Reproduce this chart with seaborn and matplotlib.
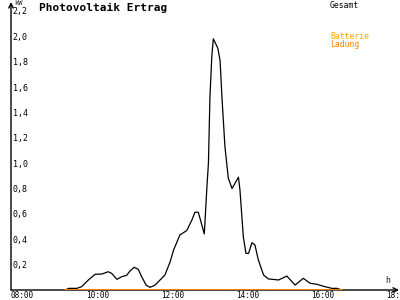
import matplotlib
matplotlib.use("Agg")
import matplotlib.pyplot as plt
import matplotlib.transforms as mtransforms
import seaborn as sns
import pandas as pd

# Data (hours, kW)
hours = [9.31, 9.41, 9.62, 9.75, 9.93, 10.11, 10.29, 10.46, 10.55, 10.69, 10.82,
         10.95, 11.04, 11.15, 11.26, 11.35, 11.47, 11.57, 11.71, 11.84, 11.97,
         12.11, 12.20, 12.37, 12.55, 12.69, 12.77, 12.86, 13.02, 13.09, 13.13,
         13.17, 13.22, 13.26, 13.38, 13.44, 13.49, 13.57, 13.66, 13.76, 13.93,
         13.97, 14.06, 14.13, 14.20, 14.29, 14.37, 14.46, 14.60, 14.73, 15.00,
         15.22, 15.44, 15.66, 15.84, 16.02, 16.24, 16.42, 16.55, 16.69]
gesamt = [0.00, 0.013, 0.013, 0.026, 0.079, 0.124, 0.126, 0.144, 0.131, 0.084, 0.105,
          0.116, 0.150, 0.179, 0.163, 0.105, 0.039, 0.021, 0.039, 0.079, 0.118,
          0.223, 0.315, 0.434, 0.468, 0.552, 0.613, 0.613, 0.442, 0.815, 1.00,
          1.52, 1.84, 1.98, 1.906, 1.81, 1.52, 1.13, 0.88, 0.80, 0.889,
          0.79, 0.42, 0.289, 0.289, 0.373, 0.355, 0.237, 0.118, 0.087, 0.079,
          0.11, 0.039, 0.092, 0.053, 0.045, 0.026, 0.013, 0.013, 0.0]
ladung_hours = [9.31, 16.69]
ladung = [0.0, 0.0]

y_ticks = [0.2, 0.4, 0.6, 0.8, 1.0, 1.2, 1.4, 1.6, 1.8, 2.0, 2.2]
y_labels = ["0,2", "0,4", "0,6", "0,8", "1,0", "1,2", "1,4", "1,6", "1,8", "2,0", "2,2"]
x_ticks = [8, 10, 12, 14, 16, 18]
x_labels = ["08:00", "10:00", "12:00", "14:00", "16:00", "18:00"]

sns.set_style("white")
plt.rcParams['font.family'] = ['DejaVu Sans Mono', 'DejaVu Sans']

fig = plt.figure(figsize=(4, 3), dpi=100)
ax = fig.add_axes([11/400, 10/300, 388/400, 288/300])

df = pd.DataFrame({"h": hours, "kW": gesamt})
dl = pd.DataFrame({"h": ladung_hours, "kW": ladung})
sns.lineplot(data=df, x="h", y="kW", ax=ax, color="black", linewidth=0.9)
sns.lineplot(data=dl, x="h", y="kW", ax=ax, color="#FF8000", linewidth=1.4, zorder=5)

ax.set_xlim(7.867, 18.21)
ax.set_ylim(0, 2.27)
ax.set_xlabel("")
ax.set_ylabel("")
for s in ax.spines.values():
    s.set_visible(False)

# axes with arrows
ax.annotate("", xy=(1.0, 0), xytext=(0, 0), xycoords="axes fraction",
            arrowprops=dict(arrowstyle="->", color="black", lw=1, shrinkA=0, shrinkB=0,
                            mutation_scale=8))
ax.annotate("", xy=(0, 1.0), xytext=(0, 0), xycoords="axes fraction",
            arrowprops=dict(arrowstyle="->", color="black", lw=1, shrinkA=0, shrinkB=0,
                            mutation_scale=8))

ax.set_yticks(y_ticks)
ax.set_yticklabels(y_labels)
ax.set_xticks(x_ticks)
ax.set_xticklabels(x_labels)
ax.tick_params(axis="both", direction="inout", length=5, width=1, color="black",
               labelsize=6, labelcolor="black")
ax.tick_params(axis="y", pad=-3.6)
ax.tick_params(axis="x", pad=-1.8, labelsize=5.5)
for lab in ax.get_yticklabels():
    lab.set_horizontalalignment("left")
off = mtransforms.ScaledTranslation(6.5/100, 0, fig.dpi_scale_trans)
for lab in ax.get_xticklabels():
    lab.set_transform(lab.get_transform() + off)

fig.text(39/400, 1 - 3/300, "Photovoltaik Ertrag", fontsize=8, fontweight="bold",
         va="top", ha="left", color="black")
fig.text(14/400, 1 - 0/300, "kW", fontsize=5, va="top", ha="left")
fig.text(385/400, 1 - 276/300, "h", fontsize=6, va="top", ha="left")
fig.text(330/400, 1 - 1/300, "Gesamt", fontsize=5.8, va="top", ha="left", color="black")
fig.text(330/400, 1 - 32/300, "Batterie", fontsize=5.8, va="top", ha="left", color="#FFA500")
fig.text(330/400, 1 - 40/300, "Ladung", fontsize=5.8, va="top", ha="left", color="#FF8000")

fig.savefig("out.png", dpi=100)
